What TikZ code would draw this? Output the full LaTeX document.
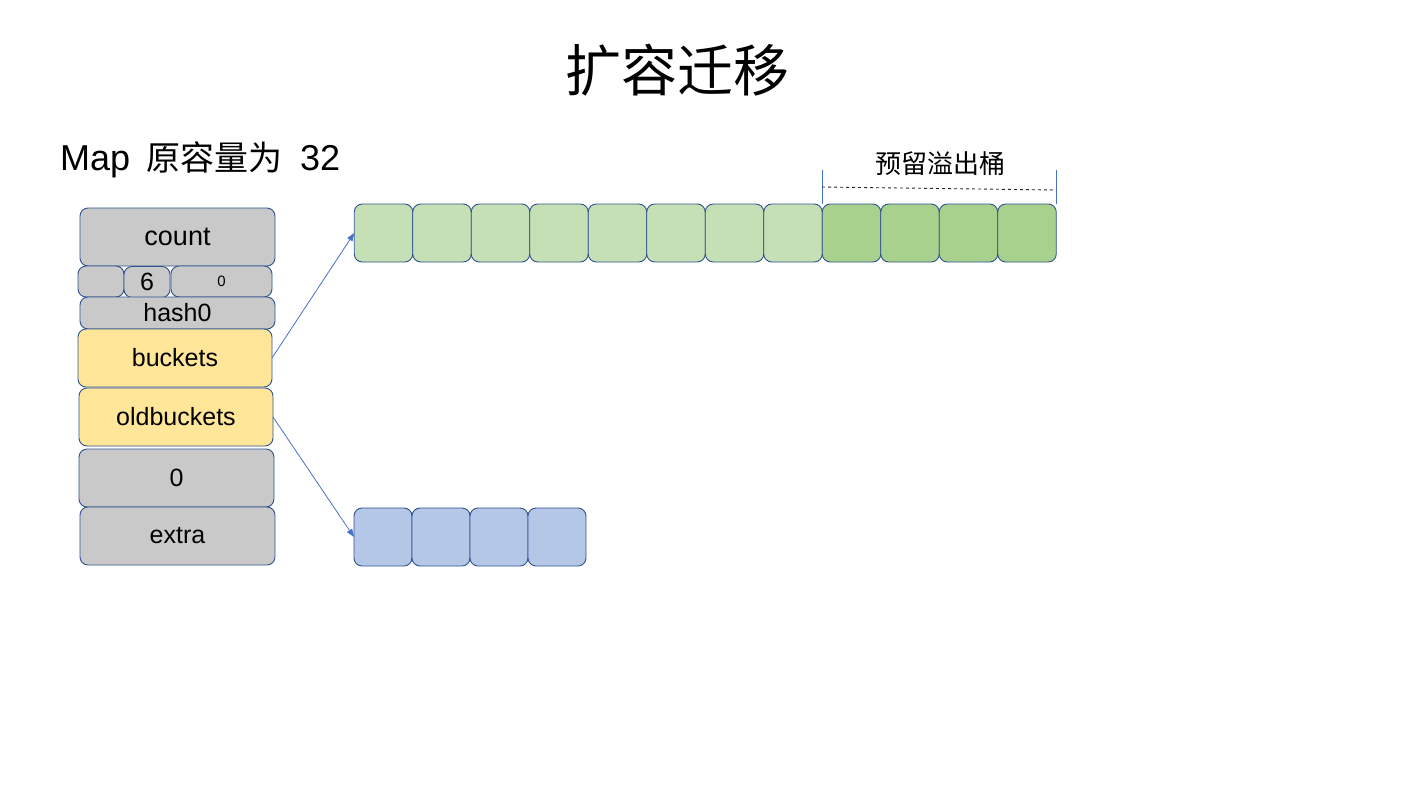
\documentclass[tikz,border=0pt]{standalone}
\usepackage{fontspec}
\setmainfont{Liberation Sans}
\newfontfamily\cjk{Noto Sans CJK SC}
\usepackage{xcolor}
\usetikzlibrary{positioning,arrows.meta}

\definecolor{cellgray}{HTML}{C9C9C9}
\definecolor{cellline}{HTML}{2F528F}
\definecolor{cellyellow}{HTML}{FFE699}
\definecolor{lightgreen}{HTML}{C5E0B4}
\definecolor{darkgreen}{HTML}{A9D18E}
\definecolor{cellblue}{HTML}{B4C7E7}
\definecolor{linkblue}{HTML}{4472C4}

\begin{document}
\begin{tikzpicture}[
x=1pt, y=-1pt,
field/.style={
    rectangle,
    rounded corners=8pt,
    draw=cellline,
    line width=0.9pt,
    fill=cellgray,
    inner sep=0pt,
    outer sep=0pt,
    minimum width=195pt,
    minimum height=58pt,
    font=\fontsize{25}{28}\selectfont
},
cell/.style={
    rectangle,
    rounded corners=8pt,
    draw=cellline,
    line width=0.9pt,
    inner sep=0pt,
    outer sep=0pt,
    minimum width=58.5pt,
    minimum height=58pt
},
link/.style={
    -{Triangle[length=8pt,width=6pt]},
    draw=linkblue,
    line width=0.8pt
},
bracket/.style={
    draw=linkblue,
    line width=0.8pt
}
]
\useasboundingbox (0,0) rectangle (1424,788);

% Titles
\node (title) at (677,70) {\cjk\fontsize{56}{60}\selectfont 扩容迁移};
\node[anchor=base west,inner sep=0pt] (maptitle) at (60,170)
{\fontsize{36}{42}\selectfont Map\hspace{16pt}{\cjk\fontsize{34}{40}\selectfont 原容量为}\hspace{18pt}32};

% Map struct
\node[field,font=\fontsize{27}{30}\selectfont] (count) at (177.5,237) {count};
\node[field,minimum width=46pt,minimum height=31pt] (flags) at (101,281.5) {};
\node[field,minimum width=46pt,minimum height=31pt] (bval) at (147,282) {6};
\node[field,minimum width=101pt,minimum height=31pt,font=\fontsize{15}{17}\selectfont] (noverflow) at (221.5,281.5) {0};
\node[field,minimum height=32pt] (hash) at (177.5,313) {hash0};
\node[field,fill=cellyellow,minimum width=194pt] (buckets) at (175,358) {buckets};
\node[field,fill=cellyellow,minimum width=194pt] (oldbuckets) at (176,417) {oldbuckets};
\node[field] (nevacuate) at (176.5,478) {0};
\node[field] (extra) at (177.5,536) {extra};

% New buckets
\node[cell,fill=lightgreen] (g1) at (383.5,233) {};
\node[cell,fill=lightgreen,right=0pt of g1] (g2) {};
\node[cell,fill=lightgreen,right=0pt of g2] (g3) {};
\node[cell,fill=lightgreen,right=0pt of g3] (g4) {};
\node[cell,fill=lightgreen,right=0pt of g4] (g5) {};
\node[cell,fill=lightgreen,right=0pt of g5] (g6) {};
\node[cell,fill=lightgreen,right=0pt of g6] (g7) {};
\node[cell,fill=lightgreen,right=0pt of g7] (g8) {};
\node[cell,fill=darkgreen,right=0pt of g8] (g9) {};
\node[cell,fill=darkgreen,right=0pt of g9] (g10) {};
\node[cell,fill=darkgreen,right=0pt of g10] (g11) {};
\node[cell,fill=darkgreen,right=0pt of g11] (g12) {};

% Old buckets
\node[cell,fill=cellblue,minimum width=58pt] (b1) at (383,537) {};
\node[cell,fill=cellblue,minimum width=58pt,right=0pt of b1] (b2) {};
\node[cell,fill=cellblue,minimum width=58pt,right=0pt of b2] (b3) {};
\node[cell,fill=cellblue,minimum width=58pt,right=0pt of b3] (b4) {};

% Overflow mark
\coordinate (ovleft) at (822,187);
\coordinate (ovright) at (1056,190);
\draw[bracket] (g9.north west) -- ++(0,-34);
\draw[bracket] (g12.north east) -- ++(0,-34);
\draw[dashed,line width=0.9pt,black!85] (ovleft) -- (ovright);
\node (overflow) at (940,164) {\cjk\fontsize{26}{29}\selectfont 预留溢出桶};

% Connections
\draw[link] (buckets.east) -- (g1.west);
\draw[link] (oldbuckets.east) -- (b1.west);

\end{tikzpicture}
\end{document}
